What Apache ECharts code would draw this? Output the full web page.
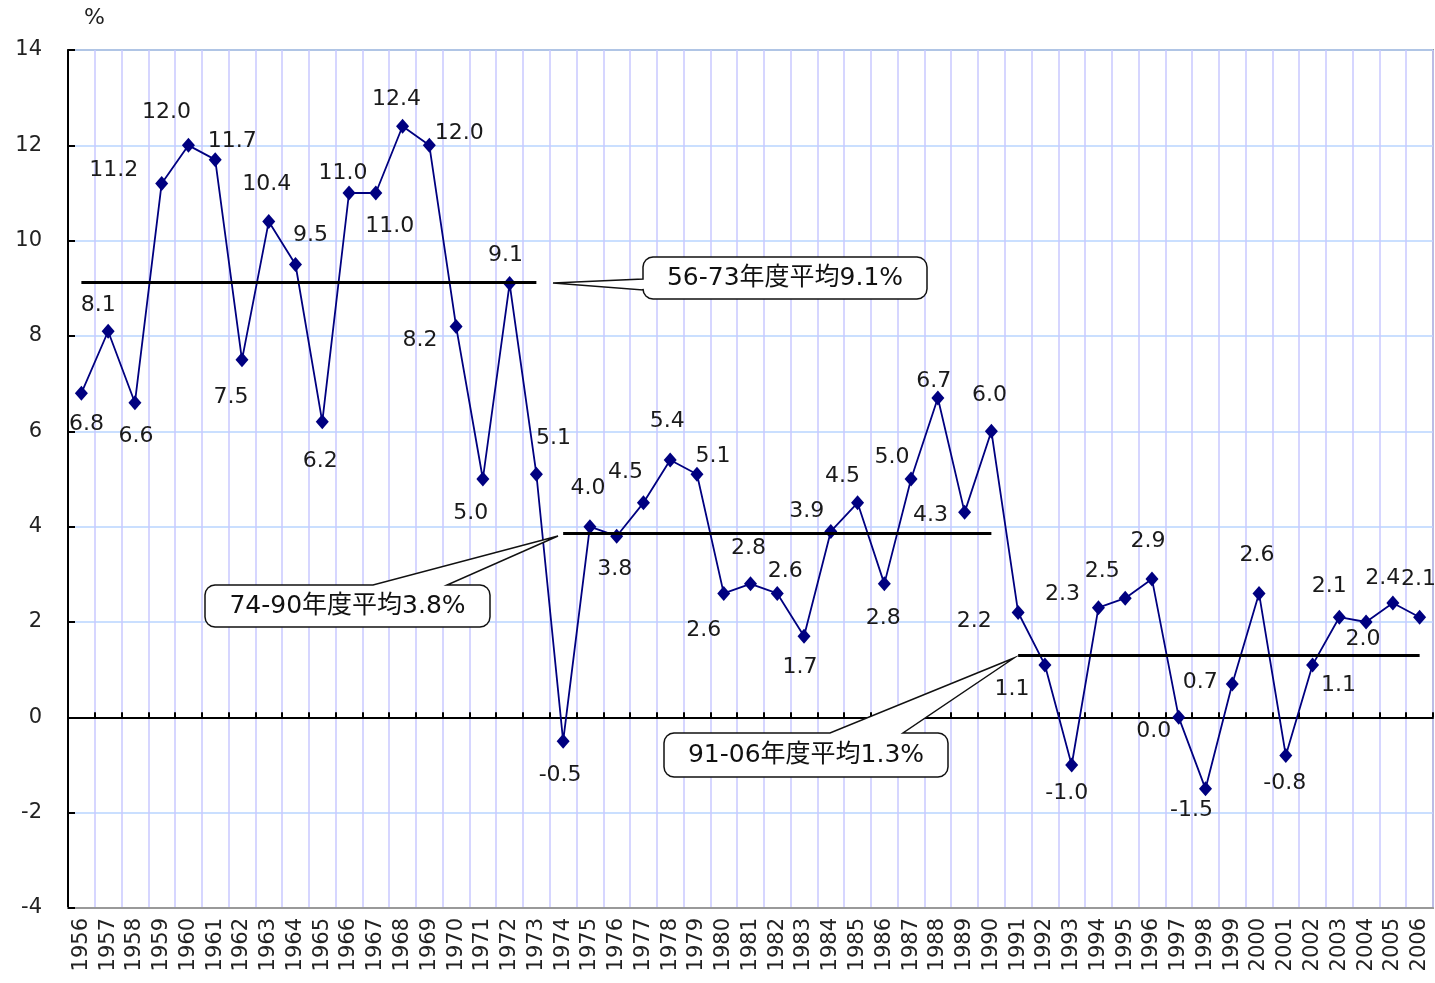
<!DOCTYPE html>
<html>
<head>
<meta charset="utf-8">
<title>実質経済成長率</title>
<script src="https://cdn.jsdelivr.net/npm/echarts@6/dist/echarts.min.js"></script>
<style>
html, body { margin: 0; padding: 0; background: #fff; }
#main { width: 1435px; height: 983px; }
</style>
</head>
<body>
<div id="main"></div>
<script>
// 年度
var years = ['1956','1957','1958','1959','1960','1961','1962','1963','1964','1965',
    '1966','1967','1968','1969','1970','1971','1972','1973','1974','1975',
    '1976','1977','1978','1979','1980','1981','1982','1983','1984','1985',
    '1986','1987','1988','1989','1990','1991','1992','1993','1994','1995',
    '1996','1997','1998','1999','2000','2001','2002','2003','2004','2005','2006'];

// 成長率 (%)
var growth = [6.8, 8.1, 6.6, 11.2, 12.0, 11.7, 7.5, 10.4, 9.5, 6.2,
    11.0, 11.0, 12.4, 12.0, 8.2, 5.0, 9.1, 5.1, -0.5, 4.0,
    3.8, 4.5, 5.4, 5.1, 2.6, 2.8, 2.6, 1.7, 3.9, 4.5,
    2.8, 5.0, 6.7, 4.3, 6.0, 2.2, 1.1, -1.0, 2.3, 2.5,
    2.9, 0.0, -1.5, 0.7, 2.6, -0.8, 1.1, 2.1, 2.0, 2.4, 2.1];

// 期間平均
var avgStart = ['1956', '1974', '1991'];
var avgEnd = ['1973', '1990', '2006'];
var avgValue = [9.12, 3.86, 1.3];
var avgText = ['56-73年度平均9.1%', '74-90年度平均3.8%', '91-06年度平均1.3%'];

// ラベルのずらし (px)
var labelOffset = [[5,31],[-10,-26],[1,34],[-48,-13],[-22,-33],[17,-18],[-11,37],[-2,-37],[15,-29],[-2,39],
    [-6,-20],[14,33],[-6,-27],[30,-12],[-36,14],[-12,34],[-4,-28],[17,-36],[-3,34],[-2,-38],
    [-2,33],[-18,-31],[-3,-39],[16,-18],[-20,37],[-2,-36],[8,-22],[-4,31],[-24,-20],[-15,-27],
    [-1,34],[-19,-22],[-4,-17],[-34,3],[-2,-36],[-44,9],[-33,24],[-5,28],[-36,-13],[-23,-27],
    [-4,-38],[-25,14],[-14,21],[-32,-2],[-2,-38],[-1,28],[26,20],[-10,-31],[-3,17],[-10,-25],[-1,-38]];

// 吹き出し
var boxes = [
    {x0: 643, y0: 257, x1: 927, y1: 299, side: 'left', a: 279, b: 290, tip: [553, 283]},
    {x0: 205, y0: 585, x1: 490, y1: 627, side: 'top', a: 373, b: 447, tip: [558, 536]},
    {x0: 664, y0: 733, x1: 948, y1: 777, side: 'top', a: 830, b: 903, tip: [1014, 658]}
];

// 角丸 (cx, cy 中心, 角度 from→to)
function corner(pts, cx, cy, r, a0, a1) {
    for (var k = 0; k <= 4; k++) {
        var t = (a0 + (a1 - a0) * k / 4) * Math.PI / 180;
        pts.push([cx + r * Math.cos(t), cy + r * Math.sin(t)]);
    }
}

function calloutPoints(bx) {
    var r = 10, x0 = bx.x0, y0 = bx.y0, x1 = bx.x1, y1 = bx.y1;
    var pts = [];
    corner(pts, x0 + r, y0 + r, r, 180, 270);
    if (bx.side === 'top') {
        pts.push([bx.a, y0], bx.tip, [bx.b, y0]);
    }
    corner(pts, x1 - r, y0 + r, r, 270, 360);
    corner(pts, x1 - r, y1 - r, r, 0, 90);
    corner(pts, x0 + r, y1 - r, r, 90, 180);
    if (bx.side === 'left') {
        pts.push([x0, bx.b], bx.tip, [x0, bx.a]);
    }
    return pts;
}

var graphics = [{
    type: 'text', left: 84, top: 7, z: 100,
    style: {text: '%', font: '22px "DejaVu Sans"', fill: '#222'}
}];
boxes.forEach(function (bx, i) {
    graphics.push({
        type: 'polygon', z: 100,
        shape: {points: calloutPoints(bx)},
        style: {fill: '#fff', stroke: '#111', lineWidth: 1.5}
    });
    graphics.push({
        type: 'text', z: 101,
        x: (bx.x0 + bx.x1) / 2, y: (bx.y0 + bx.y1) / 2,
        style: {
            text: avgText[i], font: '25px "DejaVu Sans", "Noto Sans CJK JP"', fill: '#111',
            align: 'center', verticalAlign: 'middle'
        }
    });
});

var pts = growth.map(function (v, i) {
    return {value: v, label: {offset: labelOffset[i]}};
});

var avgLines = avgValue.map(function (v, i) {
    return [{coord: [avgStart[i], v]}, {coord: [avgEnd[i], v]}];
});

var myChart = echarts.init(document.getElementById('main'));
var option = {
    backgroundColor: '#fff',
    animation: false,
    grid: {
        left: 68, right: 2, top: 50, bottom: 75,
        show: true, borderColor: '#999', borderWidth: 2
    },
    xAxis: [{
        type: 'category',
        data: years,
        axisLine: {onZero: false, lineStyle: {color: '#999', width: 2}},
        axisTick: {show: false},
        axisLabel: {
            interval: 0, rotate: 90, margin: 10,
            fontSize: 21, fontFamily: 'DejaVu Sans', color: '#222'
        },
        splitLine: {show: true, interval: 0, lineStyle: {color: '#c8c8ff', width: 1.5}}
    }, {
        type: 'category',
        data: years,
        position: 'bottom',
        axisLine: {onZero: true, lineStyle: {color: '#000', width: 2}},
        axisTick: {show: true, inside: true, length: 5, interval: 0, lineStyle: {color: '#000', width: 2}},
        axisLabel: {show: false},
        splitLine: {show: false}
    }],
    yAxis: {
        type: 'value',
        min: -4, max: 14, interval: 2,
        axisLine: {show: true, lineStyle: {color: '#000', width: 2}},
        axisTick: {show: true, inside: true, length: 7, lineStyle: {color: '#000', width: 2}},
        axisLabel: {margin: 26, fontSize: 21, fontFamily: 'DejaVu Sans', color: '#222'},
        splitLine: {lineStyle: {color: '#b8d4ff', width: 1.5}}
    },
    series: [{
        type: 'line',
        data: pts,
        xAxisIndex: 0,
        color: '#000080',
        symbol: 'diamond',
        symbolSize: [13, 15],
        lineStyle: {color: '#000080', width: 1.8},
        itemStyle: {color: '#000080'},
        label: {
            show: true, position: 'inside',
            fontSize: 22, fontFamily: 'DejaVu Sans', color: '#1a1a1a',
            formatter: function (p) { return p.value.toFixed(1); }
        },
        z: 3
    }, {
        type: 'line',
        data: [],
        xAxisIndex: 0,
        markLine: {
            silent: true,
            symbol: 'none',
            label: {show: false},
            lineStyle: {color: '#000', width: 3, type: 'solid'},
            data: avgLines
        },
        z: 4
    }],
    graphic: graphics
};
myChart.setOption(option);
window.onresize = function () {
    myChart.resize();
};
</script>
</body>
</html>
